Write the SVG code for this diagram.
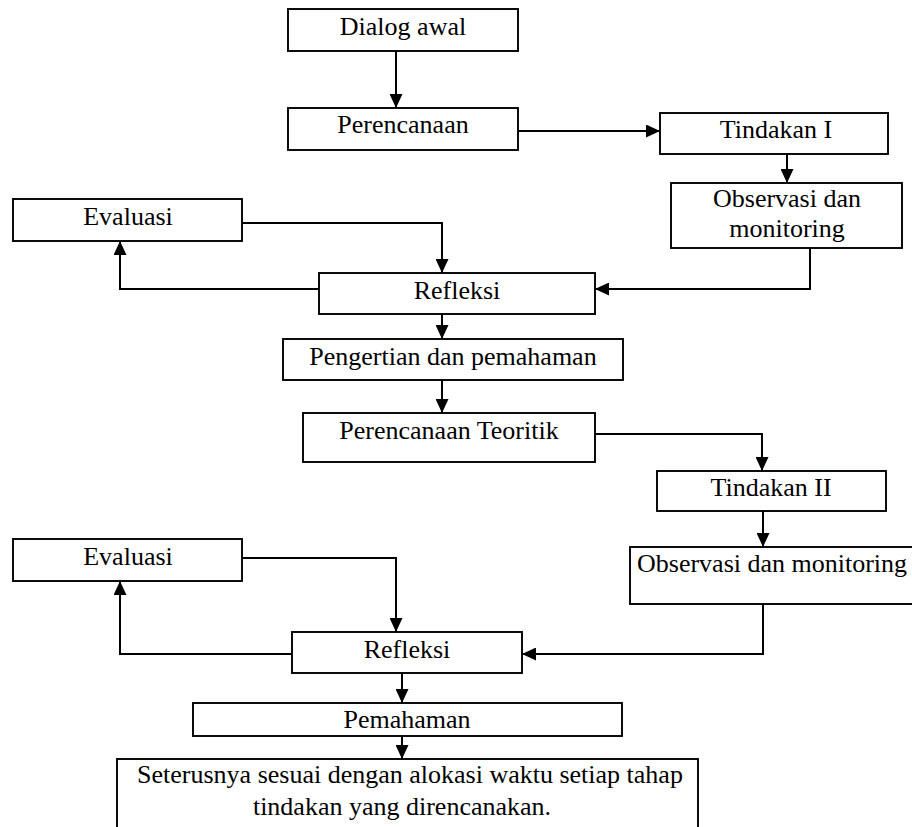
<svg xmlns="http://www.w3.org/2000/svg" width="912" height="827" viewBox="0 0 912 827">
<style>
.box{fill:#fff;stroke:#000;stroke-width:1.9}
.t{font-family:"Liberation Serif","Times New Roman",serif;font-size:26px;fill:#000;text-anchor:middle}
.tl{text-anchor:start}
.c{fill:none;stroke:#000;stroke-width:2}
</style>
<defs>
<marker id="ah" markerUnits="userSpaceOnUse" markerWidth="14" markerHeight="13" refX="14" refY="6.5" orient="auto">
<path d="M0,0 L14,6.5 L0,13 z" fill="#000"/>
</marker>
</defs>
<rect width="912" height="827" fill="#fff"/>
<g id="connectors">
<line class="c" x1="396" y1="51" x2="396" y2="108" marker-end="url(#ah)"/>
<line class="c" x1="518" y1="131" x2="660" y2="131" marker-end="url(#ah)"/>
<line class="c" x1="787" y1="154" x2="787" y2="183" marker-end="url(#ah)"/>
<polyline class="c" points="810,248 810,289 595,289" marker-end="url(#ah)"/>
<polyline class="c" points="242,223 442,223 442,273" marker-end="url(#ah)"/>
<polyline class="c" points="319,289 120,289 120,241" marker-end="url(#ah)"/>
<line class="c" x1="442" y1="314" x2="442" y2="339" marker-end="url(#ah)"/>
<line class="c" x1="442" y1="380" x2="442" y2="413" marker-end="url(#ah)"/>
<polyline class="c" points="595,434 762,434 762,471" marker-end="url(#ah)"/>
<line class="c" x1="763" y1="511" x2="763" y2="547" marker-end="url(#ah)"/>
<polyline class="c" points="763,604 763,654 522,654" marker-end="url(#ah)"/>
<polyline class="c" points="242,558 396,558 396,632" marker-end="url(#ah)"/>
<polyline class="c" points="292,654 120,654 120,581" marker-end="url(#ah)"/>
<line class="c" x1="402" y1="673" x2="402" y2="703" marker-end="url(#ah)"/>
<line class="c" x1="402" y1="736" x2="402" y2="759" marker-end="url(#ah)"/>
</g>
<g id="dialog-awal"><rect class="box" x="288" y="9" width="230" height="42"/><text class="t" x="403" y="35">Dialog awal</text></g>
<g id="perencanaan"><rect class="box" x="288" y="108" width="230" height="42"/><text class="t" x="403" y="133">Perencanaan</text></g>
<g id="tindakan-1"><rect class="box" x="660" y="113" width="228" height="41"/><text class="t" x="776" y="138">Tindakan I</text></g>
<g id="observasi-1"><rect class="box" x="671" y="183" width="231" height="65"/><text class="t" x="787" y="207">Observasi dan</text><text class="t" x="787" y="237">monitoring</text></g>
<g id="evaluasi-1"><rect class="box" x="13" y="199" width="229" height="42"/><text class="t" x="128" y="225">Evaluasi</text></g>
<g id="refleksi-1"><rect class="box" x="319" y="273" width="276" height="41"/><text class="t" x="457" y="299">Refleksi</text></g>
<g id="pengertian"><rect class="box" x="283" y="339" width="340" height="41"/><text class="t" x="453" y="365">Pengertian dan pemahaman</text></g>
<g id="perencanaan-teoritik"><rect class="box" x="303" y="413" width="292" height="49"/><text class="t" x="449" y="439">Perencanaan Teoritik</text></g>
<g id="tindakan-2"><rect class="box" x="657" y="471" width="229" height="40"/><text class="t" x="771" y="496">Tindakan II</text></g>
<g id="observasi-2"><rect class="box" x="630" y="547" width="290" height="57"/><text class="t tl" x="637" y="572">Observasi dan monitoring</text></g>
<g id="evaluasi-2"><rect class="box" x="13" y="539" width="229" height="42"/><text class="t" x="128" y="565">Evaluasi</text></g>
<g id="refleksi-2"><rect class="box" x="292" y="632" width="230" height="41"/><text class="t" x="407" y="658">Refleksi</text></g>
<g id="pemahaman"><rect class="box" x="193" y="703" width="429" height="33"/><text class="t" x="407" y="728">Pemahaman</text></g>
<g id="seterusnya"><rect class="box" x="117" y="759" width="581" height="90"/><text class="t" x="410" y="783">Seterusnya sesuai dengan alokasi waktu setiap tahap</text><text class="t" x="402" y="815">tindakan yang direncanakan.</text></g>
</svg>
